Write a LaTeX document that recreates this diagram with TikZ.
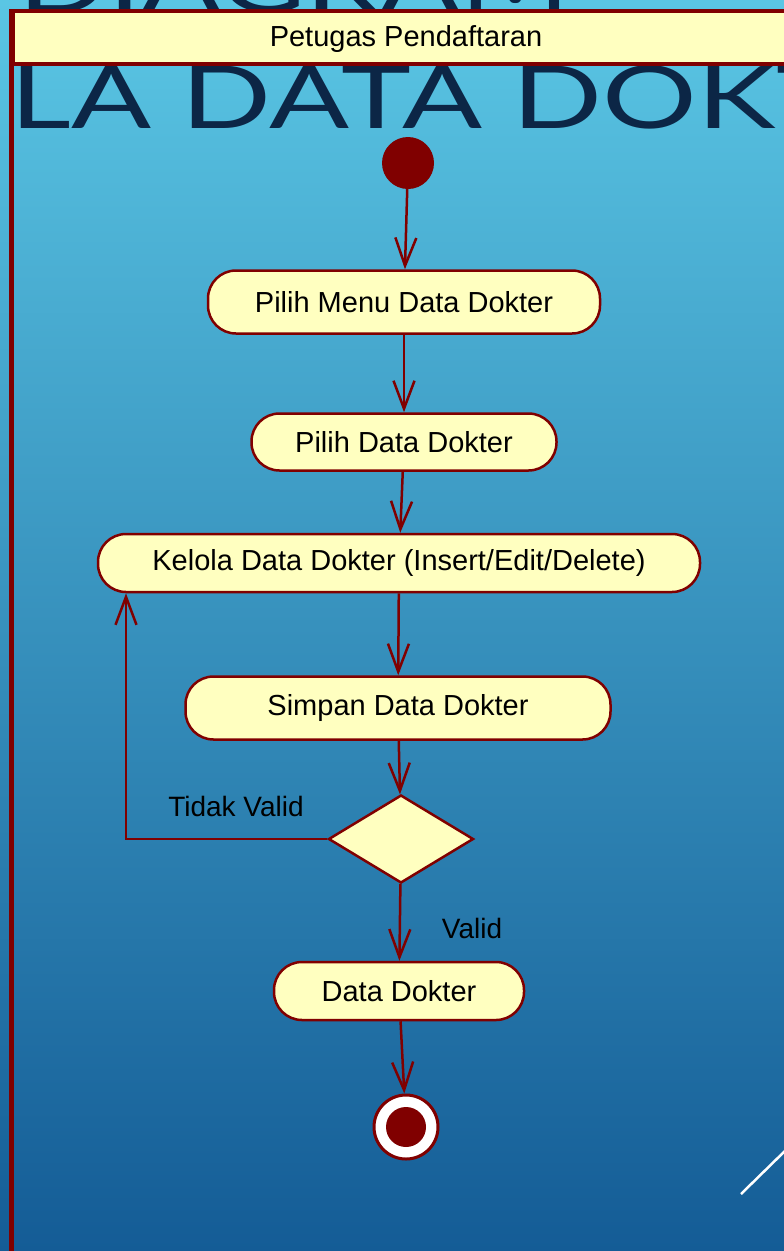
\documentclass[tikz,border=0pt]{standalone}
\usepackage{fontspec}
\setmainfont{Liberation Sans}
\newfontfamily\titlefont{Lato}
\usetikzlibrary{arrows.meta,shapes.geometric}

\definecolor{umlred}{RGB}{128,0,0}
\definecolor{umlfill}{RGB}{255,255,192}
\definecolor{bgtop}{RGB}{90,198,228}
\definecolor{bgmid}{RGB}{52,150,196}
\definecolor{bgbottom}{RGB}{20,92,150}
\definecolor{titleblue}{RGB}{12,38,70}

\tikzset{
  action/.style={draw=umlred,fill=umlfill,line width=2.5pt,rounded corners=28pt,
    inner sep=0pt,font=\fontsize{29}{34}\selectfont},
  flow/.style={draw=umlred,line width=2.5pt,-{Straight Barb[length=28pt,width=21pt]}},
  guard/.style={font=\fontsize{28}{33}\selectfont}
}

\begin{document}
\begin{tikzpicture}[x=1pt,y=1pt]
  \useasboundingbox (0,0) rectangle (784,-1251);
  \clip (0,0) rectangle (784,-1251);
  \shade[top color=bgtop,middle color=bgmid,bottom color=bgbottom] (0,0) rectangle (784,-1251);

  % slide title behind the lane
  \node[anchor=base west,inner sep=0pt,text=titleblue] (title1) at (18,-12)
    {\scalebox{1.36}[1]{\titlefont\fontsize{87}{90}\selectfont DIAGRAM}};
  \node[anchor=base west,inner sep=0pt,text=titleblue] (title2) at (10,-128)
    {\scalebox{1.36}[1]{\titlefont\fontsize{87}{90}\selectfont LA DATA DOKTER}};

  % swimlane
  \draw[umlred,line width=5pt] (11,-9) -- (11,-1260);
  \node[draw=umlred,fill=umlfill,line width=4pt,minimum width=790pt,minimum height=53pt,
    anchor=north west,inner sep=0pt] (lane) at (11,-9) {};
  \node[font=\fontsize{29}{33}\selectfont] (lanetitle) at (406,-39) {Petugas Pendaftaran};

  \coordinate (p1) at (404,-302);
  \coordinate (p2) at (404,-442);
  \coordinate (p3) at (399,-563);
  \coordinate (p4) at (398,-708);
  \coordinate (p5) at (401,-839);
  \coordinate (p6) at (399,-991);

  \node[circle,fill=umlred,minimum size=52pt,inner sep=0pt] (begin) at (408,-163) {};
  \node[action,minimum width=392pt,minimum height=63pt] (menu) at (p1) {Pilih Menu Data Dokter};
  \node[action,minimum width=305pt,minimum height=57pt] (pilih) at (p2) {Pilih Data Dokter};
  \node[action,minimum width=602pt,minimum height=58pt] (kelola) at (p3) {Kelola Data Dokter (Insert/Edit/Delete)};
  \node[action,minimum width=425pt,minimum height=63pt] (simpan) at (p4) {Simpan Data Dokter};
  \node[diamond,draw=umlred,fill=umlfill,line width=2.5pt,minimum width=145pt,minimum height=88pt,
    inner sep=0pt] (cek) at (p5) {};
  \node[action,minimum width=250pt,minimum height=58pt] (hasil) at (p6) {Data Dokter};
  \node[circle,draw=umlred,fill=white,line width=3pt,minimum size=64pt,inner sep=0pt] (finish) at (406,-1127) {};
  \node[circle,fill=umlred,minimum size=40pt,inner sep=0pt] (finishdot) at (finish) {};

  \coordinate (back) at (126,-839);

  \draw[flow] (begin) -- (menu);
  \draw[flow] (menu) -- (pilih);
  \draw[flow] (pilih) -- (kelola);
  \draw[flow] (kelola) -- (simpan);
  \draw[flow] (simpan) -- (cek);
  \draw[flow] (cek.west) -- (back) -- (back |- kelola.south);
  \draw[flow] (cek) -- (hasil);
  \draw[flow] (hasil) -- (finish);

  \node[guard] (tidak) at (236,-806) {Tidak Valid};
  \node[guard] (valid) at (472,-928) {Valid};

  \draw[white,line width=2.5pt] (741,-1194) -- (790,-1146);
\end{tikzpicture}
\end{document}
